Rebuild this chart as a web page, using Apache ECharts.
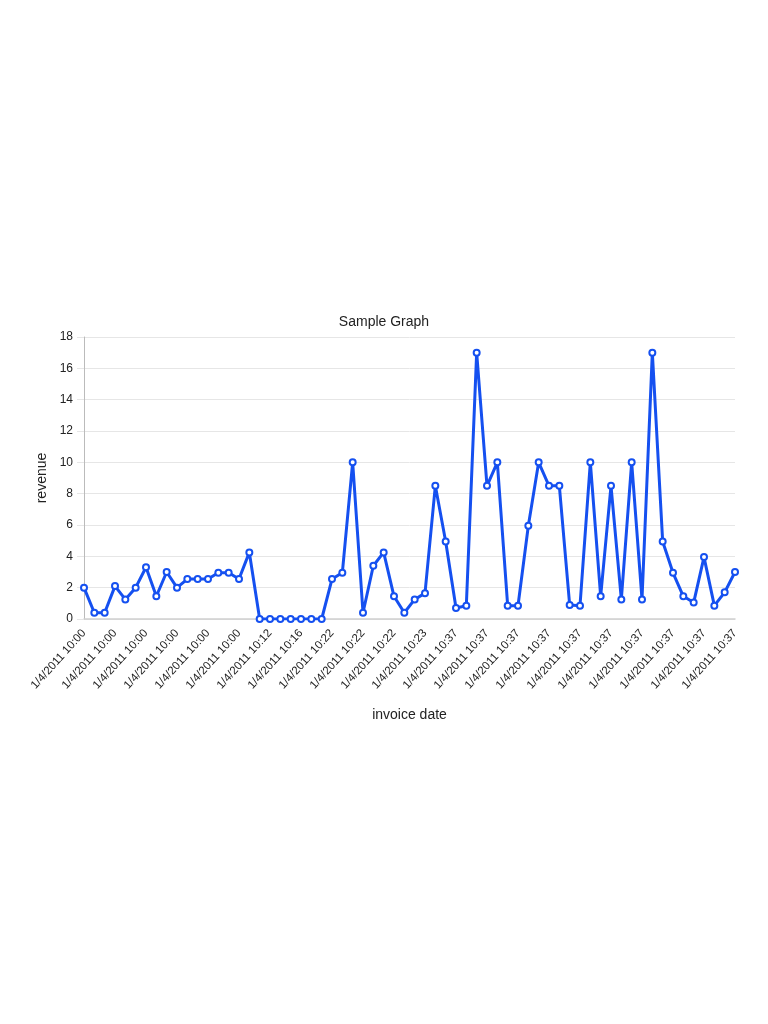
<!DOCTYPE html>
<html>
<head>
<meta charset="utf-8">
<script src="https://cdn.jsdelivr.net/npm/echarts@6/dist/echarts.min.js"></script>
<style>
html,body{margin:0;padding:0;background:#fff;}
#chart{width:768px;height:1024px;}
</style>
</head>
<body>
<div id="chart"></div>
<script>
// categories (invoice dates)
const categories = [
  "1/4/2011 10:00","1/4/2011 10:00","1/4/2011 10:00","1/4/2011 10:00","1/4/2011 10:00","1/4/2011 10:00",
  "1/4/2011 10:00","1/4/2011 10:00","1/4/2011 10:00","1/4/2011 10:00","1/4/2011 10:00","1/4/2011 10:00",
  "1/4/2011 10:00","1/4/2011 10:00","1/4/2011 10:00","1/4/2011 10:00","1/4/2011 10:00","1/4/2011 10:00",
  "1/4/2011 10:12","1/4/2011 10:12","1/4/2011 10:12","1/4/2011 10:16","1/4/2011 10:16","1/4/2011 10:16",
  "1/4/2011 10:22","1/4/2011 10:22","1/4/2011 10:22","1/4/2011 10:22","1/4/2011 10:22","1/4/2011 10:22",
  "1/4/2011 10:22","1/4/2011 10:22","1/4/2011 10:22","1/4/2011 10:23","1/4/2011 10:23","1/4/2011 10:23",
  "1/4/2011 10:37","1/4/2011 10:37","1/4/2011 10:37","1/4/2011 10:37","1/4/2011 10:37","1/4/2011 10:37",
  "1/4/2011 10:37","1/4/2011 10:37","1/4/2011 10:37","1/4/2011 10:37","1/4/2011 10:37","1/4/2011 10:37",
  "1/4/2011 10:37","1/4/2011 10:37","1/4/2011 10:37","1/4/2011 10:37","1/4/2011 10:37","1/4/2011 10:37",
  "1/4/2011 10:37","1/4/2011 10:37","1/4/2011 10:37","1/4/2011 10:37","1/4/2011 10:37","1/4/2011 10:37",
  "1/4/2011 10:37","1/4/2011 10:37","1/4/2011 10:37","1/4/2011 10:37"
];
// revenue values
const revenue = [
  2, 0.4, 0.4, 2.1, 1.25, 2, 3.3, 1.45, 3, 2,
  2.55, 2.55, 2.55, 2.95, 2.95, 2.55, 4.25, 0, 0, 0,
  0, 0, 0, 0, 2.55, 2.95, 10, 0.4, 3.4, 4.25,
  1.45, 0.4, 1.25, 1.65, 8.5, 4.95, 0.7, 0.85, 17, 8.5,
  10, 0.85, 0.85, 5.95, 10, 8.5, 8.5, 0.9, 0.85, 10,
  1.45, 8.5, 1.25, 10, 1.25, 17, 4.95, 2.95, 1.45, 1.05,
  3.95, 0.85, 1.7, 3
];
// y tick range
const yMin = 0, yMax = 18, yStep = 2;

const FONT = 'Liberation Sans, Arial, sans-serif';
const chart = echarts.init(document.getElementById('chart'));
chart.setOption({
  backgroundColor: '#fff',
  animation: false,
  title: {
    text: 'Sample Graph',
    left: 'center',
    top: 310,
    textStyle: {fontFamily: FONT, fontSize: 14, fontWeight: 'normal', color: '#222'}
  },
  grid: {left: 84, right: 33, top: 337, bottom: 405, containLabel: false},
  xAxis: {
    type: 'category',
    data: categories,
    boundaryGap: false,
    name: 'invoice date',
    nameLocation: 'middle',
    nameGap: 89,
    nameTextStyle: {fontFamily: FONT, fontSize: 14, color: '#222'},
    axisLine: {show: true, lineStyle: {color: '#d0d0d0', width: 1.5}},
    axisTick: {show: false},
    axisLabel: {
      interval: 2,
      rotate: 48,
      margin: 12,
      fontFamily: FONT,
      fontSize: 11.5,
      color: '#222'
    },
    splitLine: {show: false}
  },
  yAxis: {
    type: 'value',
    min: yMin, max: yMax, interval: yStep,
    name: 'revenue',
    nameLocation: 'middle',
    nameGap: 33,
    nameRotate: 90,
    nameTextStyle: {fontFamily: FONT, fontSize: 14, color: '#222'},
    axisLine: {show: true, lineStyle: {color: '#bbbbbb', width: 1}},
    axisTick: {show: true, length: 7, lineStyle: {color: '#e6e6e6'}},
    axisLabel: {margin: 11, fontFamily: FONT, fontSize: 12, color: '#222'},
    splitLine: {show: true, lineStyle: {color: '#e6e6e6', width: 1}}
  },
  series: [{
    type: 'line',
    data: revenue,
    symbol: 'emptyCircle',
    symbolSize: 6,
    showAllSymbol: true,
    lineStyle: {color: '#1550f0', width: 3},
    itemStyle: {color: '#1550f0', borderColor: '#1550f0', borderWidth: 2}
  }]
});
</script>
</body>
</html>
